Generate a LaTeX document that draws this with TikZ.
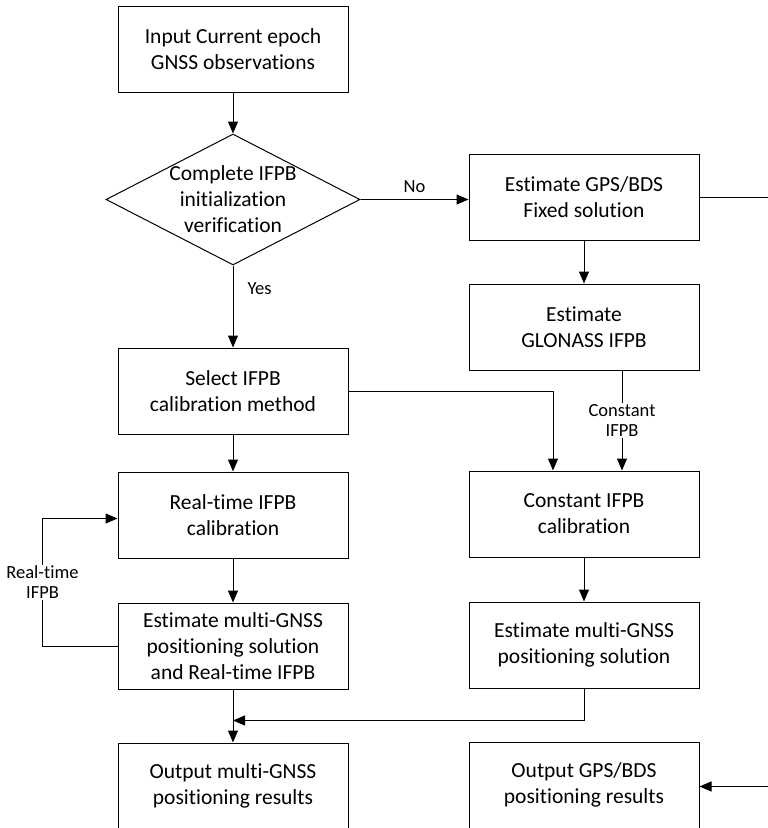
\documentclass[tikz,border=0pt]{standalone}
\usepackage{fontspec}
\setmainfont{Carlito}[Ligatures=NoCommon]
\usepackage{tikz}
\usetikzlibrary{shapes.geometric, arrows.meta, positioning, calc}

\begin{document}
\begin{tikzpicture}[
    x=1pt, y=-1pt,
    line width=1pt,
    every node/.style={font=\fontsize{21.5}{26}\selectfont},
    procbox/.style={rectangle, draw=black, minimum width=230pt, minimum height=86pt, align=center, inner sep=2pt},
    decision/.style={diamond, draw=black, aspect=1.94, minimum width=254pt, minimum height=131pt, align=center, inner sep=-8pt},
    flowlbl/.style={font=\fontsize{18.5}{20.5}\selectfont, align=center, fill=white, inner sep=1pt},
    arr/.style={-{Triangle[length=12pt,width=10pt]}},
]
\useasboundingbox (0,0) rectangle (768,828);

% left column
\node[procbox] (in) at (233,49) {Input Current epoch\\GNSS observations};
\node[decision, below=41pt of in] (dec) {Complete IFPB\\initialization\\verification};
\node[procbox, below=82pt of dec] (sel) {Select IFPB\\calibration method};
\node[procbox, below=37pt of sel] (rt) {Real-time IFPB\\calibration};
\node[procbox, below=44pt of rt] (em) {Estimate multi-GNSS\\positioning solution\\and Real-time IFPB};
\node[procbox, below=53pt of em] (om) {Output multi-GNSS\\positioning results};

% right column
\node[procbox] (fix) at (584,197) {Estimate GPS/BDS\\Fixed solution};
\node[procbox, below=43pt of fix] (glo) {Estimate\\GLONASS IFPB};
\node[procbox, below=100pt of glo] (cst) {Constant IFPB\\calibration};
\node[procbox, below=44pt of cst] (es) {Estimate multi-GNSS\\positioning solution};
\node[procbox, below=53pt of es] (os) {Output GPS/BDS\\positioning results};

\coordinate (mrg) at ([yshift=-31pt]em.south);

% connectors
\draw[arr] (in) -- (dec);
\draw[arr] (dec.east) -- node[flowlbl, above=5pt, fill=none]{No} (dec.east -| fix.west);
\draw[arr] (dec) -- node[flowlbl, right=13pt, pos=0.28, fill=none]{Yes} (sel);
\draw[arr] (fix) -- (glo);
\draw[arr] ([xshift=38pt]glo.south) -- node[flowlbl]{Constant\\IFPB} ([xshift=38pt]cst.north);
\draw[arr] (sel.east) -| ([xshift=-31pt]cst.north);
\draw[arr] (sel) -- (rt);
\draw[arr] (rt) -- (em);
\draw[arr] (cst) -- (es);
\draw[arr] (em.west) -- ++(-75,0) |- node[flowlbl, pos=0.25]{Real-time\\IFPB} ([yshift=-3.5pt]rt.west);
\draw[arr] (es.south) |- (mrg);
\draw[arr] (em) -- (om);
\draw[arr] (fix.east) -- ++(80,0) |- ([yshift=-1.5pt]os.east);

\end{tikzpicture}
\end{document}
